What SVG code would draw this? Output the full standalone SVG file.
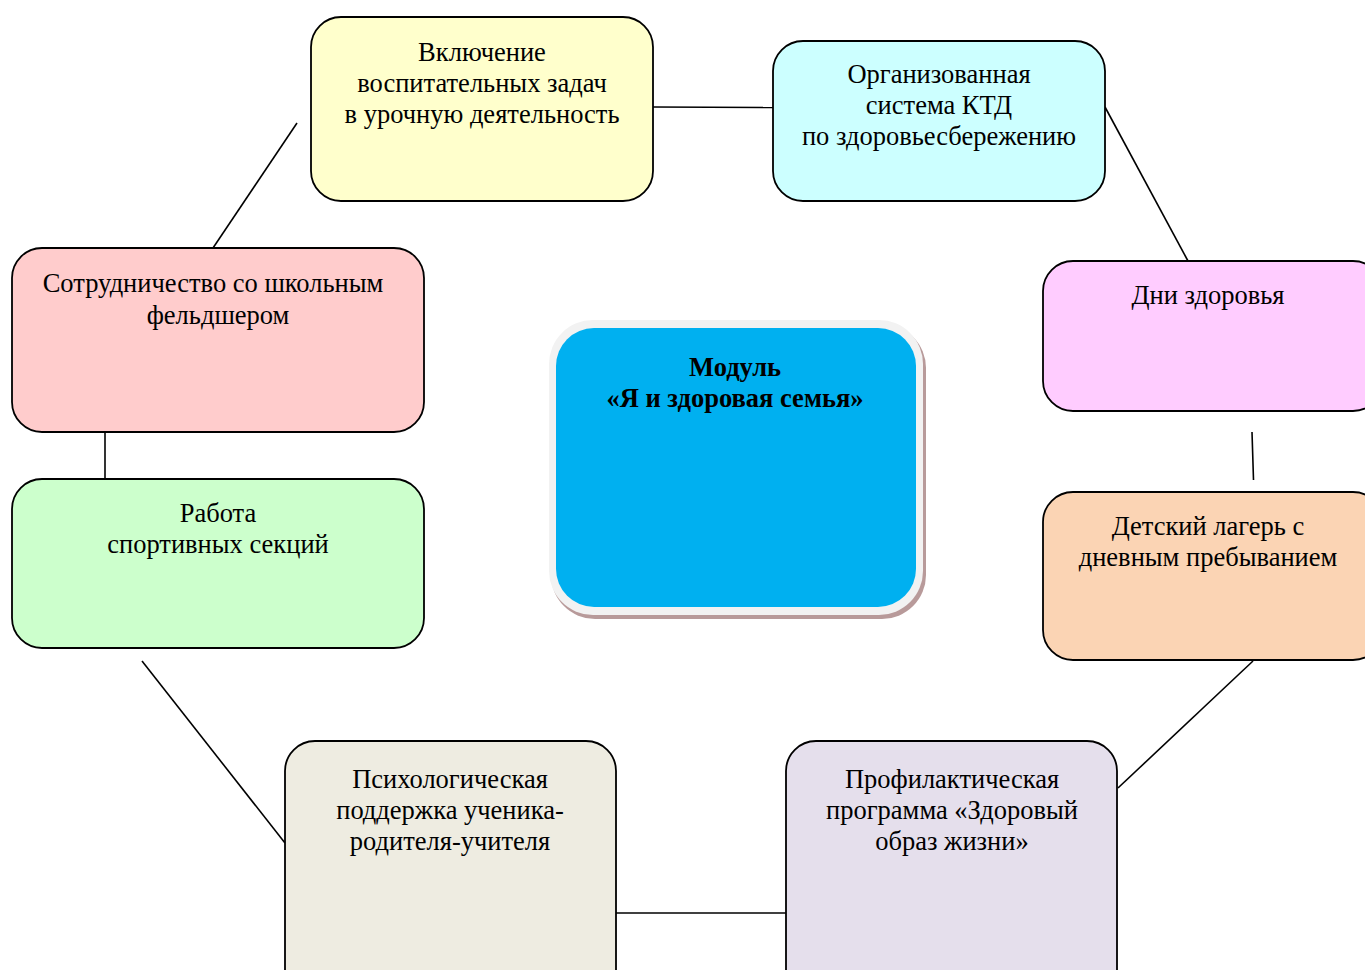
<svg xmlns="http://www.w3.org/2000/svg" width="1365" height="970" viewBox="0 0 1365 970">
<style>
.box{stroke:#000;stroke-width:1.8}
.t{font-family:"Liberation Serif","Times New Roman",serif;font-size:26.5px;fill:#000;text-anchor:middle}
.tb{font-family:"Liberation Serif","Times New Roman",serif;font-size:26.5px;font-weight:bold;fill:#000;text-anchor:middle}
.c{stroke:#000;stroke-width:1.6;fill:none}
</style>
<rect width="1365" height="970" fill="#fff"/>
<g id="connectors">
<line class="c" x1="653" y1="107" x2="773" y2="107.5"/>
<line class="c" x1="1105" y1="107" x2="1188" y2="261"/>
<line class="c" x1="1252" y1="432" x2="1253.5" y2="480"/>
<line class="c" x1="1253" y1="661" x2="1118" y2="788"/>
<line class="c" x1="616" y1="913" x2="786" y2="913"/>
<line class="c" x1="142" y1="661" x2="285" y2="843"/>
<line class="c" x1="105" y1="432" x2="105" y2="479"/>
<line class="c" x1="213" y1="248" x2="297" y2="123"/>
</g>
<g id="center">
<rect x="551" y="324" width="375" height="295" rx="44" fill="#b89a9a"/>
<rect x="549" y="320" width="374" height="295" rx="44" fill="#f2f2f2"/>
<rect x="556" y="328" width="360" height="279" rx="38" fill="#00b0f0"/>
<text class="tb" x="735" y="376">Модуль</text>
<text class="tb" x="735" y="407">«Я и здоровая семья»</text>
</g>
<g id="n1">
<rect class="box" x="311" y="17" width="342" height="184" rx="30" fill="#ffffcc"/>
<text class="t" x="482" y="61">Включение</text>
<text class="t" x="482" y="92">воспитательных задач</text>
<text class="t" x="482" y="123">в урочную деятельность</text>
</g>
<g id="n2">
<rect class="box" x="773" y="41" width="332" height="160" rx="30" fill="#ccffff"/>
<text class="t" x="939" y="83">Организованная</text>
<text class="t" x="939" y="114">система КТД</text>
<text class="t" x="939" y="145">по здоровьесбережению</text>
</g>
<g id="n3">
<rect class="box" x="1043" y="261" width="340" height="150" rx="30" fill="#ffccff"/>
<text class="t" x="1208" y="304">Дни здоровья</text>
</g>
<g id="n4">
<rect class="box" x="1043" y="492" width="340" height="168" rx="30" fill="#fbd4b4"/>
<text class="t" x="1208" y="535">Детский лагерь с</text>
<text class="t" x="1208" y="566">дневным пребыванием</text>
</g>
<g id="n5">
<rect class="box" x="786" y="741" width="331" height="260" rx="30" fill="#e5dfec"/>
<text class="t" x="952" y="788">Профилактическая</text>
<text class="t" x="952" y="819">программа «Здоровый</text>
<text class="t" x="952" y="850">образ жизни»</text>
</g>
<g id="n6">
<rect class="box" x="285" y="741" width="331" height="260" rx="30" fill="#eeece1"/>
<text class="t" x="450" y="788">Психологическая</text>
<text class="t" x="450" y="819">поддержка ученика-</text>
<text class="t" x="450" y="850">родителя-учителя</text>
</g>
<g id="n7">
<rect class="box" x="12" y="479" width="412" height="169" rx="30" fill="#ccffcc"/>
<text class="t" x="218" y="522">Работа</text>
<text class="t" x="218" y="553">спортивных секций</text>
</g>
<g id="n8">
<rect class="box" x="12" y="248" width="412" height="184" rx="30" fill="#ffcccc"/>
<text class="t" x="213" y="292">Сотрудничество со школьным</text>
<text class="t" x="218" y="324">фельдшером</text>
</g>
</svg>
